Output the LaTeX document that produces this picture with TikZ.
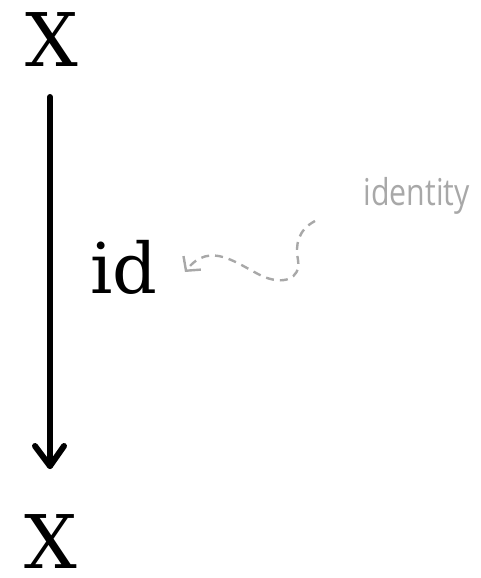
\documentclass[tikz,border=0pt]{standalone}
\usepackage{fontspec}
\usepackage{graphicx}
\setmainfont{DejaVu Serif}
\newfontfamily\labelfont{Open Sans}
\usetikzlibrary{arrows.meta}
\definecolor{notegray}{HTML}{A8A8A8}
\tikzset{
  obj/.style={inner sep=0pt, font=\fontsize{74}{80}\selectfont},
  morph/.style={line width=6pt, line cap=round, line join=round},
  note/.style={inner sep=0pt, text=notegray, font=\labelfont\fontsize{37}{40}\selectfont},
  pointer/.style={notegray, line width=2.4pt, dash pattern=on 8pt off 6pt, -{Straight Barb[length=10pt,width=22pt,line width=2.4pt]}}
}
\begin{document}
\begin{tikzpicture}[x=1pt,y=-1pt]
\useasboundingbox (0,0) rectangle (481,578);
\node[obj] (top) at (52,40) {X};
\node[obj] (bot) at (51,542) {X};
\node[obj, font=\fontsize{70}{76}\selectfont, anchor=base west] (id) at (90,293) {id};
\node[note, anchor=base east] (identity) at (470,205) {\scalebox{0.82}[1]{identity}};
\coordinate (a1) at (50,97);
\coordinate (a2) at (50,466);
\draw[morph] (a1) -- (a2);
\draw[morph] (a2) ++(-15,-20) -- (a2) -- ++(14,-20);
\coordinate (p0) at (315,221);
\coordinate (p1) at (298,260);
\coordinate (p2) at (262,276);
\coordinate (p3) at (185,272);
\draw[pointer] (p0) .. controls (298,230) and (295,245) .. (p1)
  .. controls (301,280) and (282,285) .. (p2)
  .. controls (237,264) and (210,240) .. (p3);
\end{tikzpicture}
\end{document}
